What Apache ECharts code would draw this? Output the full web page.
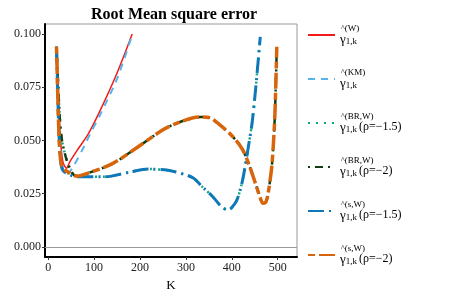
<!DOCTYPE html>
<html>
<head>
<meta charset="utf-8">
<script src="https://cdn.jsdelivr.net/npm/echarts@6/dist/echarts.min.js"></script>
<style>html,body{margin:0;padding:0;background:#fff}#c{width:463px;height:300px}</style>
</head>
<body>
<div id="c"></div>
<script>
// ---- data ----
const xTicks = [0, 100, 200, 300, 400, 500];
const yTicks = [0, 0.025, 0.05, 0.075, 0.1];

const kW    = [18, 22, 27, 32, 40, 47, 65, 87, 113, 150, 183];
const rmseW = [0.094, 0.07, 0.05, 0.04, 0.037, 0.04, 0.046, 0.053, 0.064, 0.0817, 0.1];

const kKM    = [18, 22, 27, 32, 40, 54, 80, 91, 113, 150, 180];
const rmseKM = [0.094, 0.068, 0.048, 0.037, 0.034, 0.0376, 0.048, 0.053, 0.062, 0.079, 0.0977];

const kS15    = [18, 20, 22, 24, 27, 32, 45, 65, 124, 174, 218, 261, 290, 316, 337, 359, 378, 392, 400, 411, 422, 429, 436, 444, 450, 456, 462];
const rmseS15 = [0.094, 0.078, 0.062, 0.05, 0.04, 0.036, 0.034, 0.033, 0.033, 0.035, 0.0366, 0.036, 0.0345, 0.0324, 0.028, 0.0235, 0.0188, 0.0174, 0.0185, 0.022, 0.030, 0.0377, 0.047, 0.058, 0.07, 0.084, 0.0986];

const kBR15    = [18, 22, 26, 30, 35, 40, 47, 55, 65, 124, 174, 218, 261, 290, 316, 337, 359, 378, 392, 400, 411, 422, 429, 436, 444, 450, 456, 462];
const rmseBR15 = [0.094, 0.075, 0.058, 0.05, 0.045, 0.041, 0.037, 0.034, 0.033, 0.033, 0.035, 0.0366, 0.036, 0.0345, 0.0324, 0.028, 0.0235, 0.0188, 0.0174, 0.0185, 0.022, 0.030, 0.0377, 0.047, 0.058, 0.07, 0.084, 0.0986];

const kS2    = [18, 20, 22, 24, 27, 32, 45, 63, 87, 139, 189, 250, 287, 331, 350, 374, 403, 424, 439, 454, 462, 468, 474, 479, 487, 491, 494, 498];
const rmseS2 = [0.094, 0.078, 0.062, 0.05, 0.041, 0.037, 0.035, 0.0333, 0.0347, 0.039, 0.046, 0.055, 0.0587, 0.061, 0.0608, 0.0573, 0.0516, 0.0455, 0.0377, 0.0282, 0.023, 0.0205, 0.021, 0.025, 0.0377, 0.05, 0.063, 0.094];

const kBR2    = [18, 22, 26, 30, 35, 40, 47, 55, 63, 87, 139, 189, 250, 287, 331, 350, 374, 403, 424, 439, 454, 462, 468, 474, 479, 487, 491, 494, 498];
const rmseBR2 = [0.094, 0.075, 0.058, 0.05, 0.045, 0.041, 0.037, 0.034, 0.0333, 0.0347, 0.039, 0.046, 0.055, 0.0587, 0.061, 0.0608, 0.0573, 0.0516, 0.0455, 0.0377, 0.0282, 0.023, 0.0205, 0.021, 0.025, 0.0377, 0.05, 0.063, 0.094];

const seriesNames = ['W', 'KM', 'BR15', 'BR2', 'S15', 'S2'];
const legendSup = { W: '(W)', KM: '(KM)', BR15: '(BR,W)', BR2: '(BR,W)', S15: '(s,W)', S2: '(s,W)' };
const legendRho = { W: '', KM: '', BR15: '(ρ=−1.5)', BR2: '(ρ=−2)', S15: '(ρ=−1.5)', S2: '(ρ=−2)' };

const titleText = 'Root Mean square error';
const xName = 'K';
const yName = 'RMSE';

// ---- build ----
function pairs(xs, ys) { return xs.map((x, i) => [x, ys[i]]); }
const serif = '"Liberation Serif", "DejaVu Serif", serif';

function line(name, xs, ys, color, width, type, z) {
  return {
    name: name, type: 'line', data: pairs(xs, ys),
    showSymbol: false, symbol: 'none', smooth: 0.3, z: z,
    lineStyle: { color: color, width: width, type: type, cap: 'butt' },
    itemStyle: { color: color }
  };
}

const series = [
  line('W', kW, rmseW, '#F21A1A', 1.5, 'solid', 2),
  line('KM', kKM, rmseKM, '#56B4E9', 2, [7, 6], 3),
  line('BR15', kBR15, rmseBR15, '#10A77C', 2.5, [2, 6], 4),
  line('BR2', kBR2, rmseBR2, '#0E3E12', 2.5, [2, 5, 8, 5], 5),
  line('S15', kS15, rmseS15, '#0F78B8', 3, [16, 5, 2, 5], 6),
  line('S2', kS2, rmseS2, '#D8650C', 3.5, [7, 4, 16, 4], 7)
];
series[0].markLine = {
  silent: true, symbol: 'none', label: { show: false },
  lineStyle: { color: '#999', width: 1, type: 'solid' },
  data: [{ yAxis: 0 }]
};

const chart = echarts.init(document.getElementById('c'), null, { renderer: 'canvas' });
chart.setOption({
  animation: false,
  backgroundColor: '#fff',
  title: {
    text: titleText, left: 86, top: 2,
    textStyle: { fontFamily: serif, fontWeight: 'bold', fontSize: 16, color: '#000' }
  },
  grid: { left: 45, right: 166, top: 24, bottom: 43, show: true, borderColor: '#999', borderWidth: 1,
    containLabel: false, outerBoundsMode: 'none' },
  legend: {
    orient: 'vertical', left: 302, top: 19, itemWidth: 27, itemHeight: 12, itemGap: 22,
    data: seriesNames, selectedMode: false,
    itemStyle: { opacity: 0 },
    formatter: function (n) {
      return '{hat|^}{sup|' + legendSup[n] + '}\n{g|γ}{sub|1,k}{r|' + legendRho[n] + '}';
    },
    textStyle: {
      fontFamily: serif, color: '#000', align: 'left',
      rich: {
        hat: { fontFamily: serif, fontSize: 8, align: 'left', lineHeight: 9, verticalAlign: 'bottom', color: '#000', padding: [0, 0, 0, 1] },
        sup: { fontFamily: serif, fontSize: 9, lineHeight: 9, align: 'left', color: '#000' },
        g: { fontFamily: serif, fontSize: 13, lineHeight: 13, align: 'left', verticalAlign: 'top', color: '#000' },
        sub: { fontFamily: serif, fontSize: 9, lineHeight: 9, align: 'left', verticalAlign: 'bottom', color: '#000' },
        r: { fontFamily: serif, fontSize: 12, lineHeight: 12, align: 'left', verticalAlign: 'top', color: '#000', padding: [0, 0, 0, 2] }
      }
    }
  },
  xAxis: {
    type: 'value', min: -7, max: 542,
    name: xName, nameLocation: 'middle', nameGap: 17,
    nameTextStyle: { fontFamily: serif, fontSize: 13, color: '#000' },
    axisLine: { show: true, onZero: false, lineStyle: { color: '#000', width: 2 } },
    axisTick: { show: true, length: 3, customValues: xTicks, lineStyle: { color: '#333' } },
    axisLabel: { customValues: xTicks, fontFamily: serif, fontSize: 12, color: '#222', margin: 5 },
    splitLine: { show: false }
  },
  yAxis: {
    type: 'value', min: -0.0047, max: 0.1047,
    name: yName, nameLocation: 'middle', nameGap: 33,
    nameTextStyle: { fontFamily: serif, fontSize: 13, color: '#000' },
    axisLine: { show: true, onZero: false, lineStyle: { color: '#000', width: 2 } },
    axisTick: { show: true, length: 3, customValues: yTicks, lineStyle: { color: '#333' } },
    axisLabel: { customValues: yTicks, fontFamily: serif, fontSize: 12, color: '#222', margin: 4,
      formatter: v => v.toFixed(3) },
    splitLine: { show: false }
  },
  series: series
});
</script>
</body>
</html>
